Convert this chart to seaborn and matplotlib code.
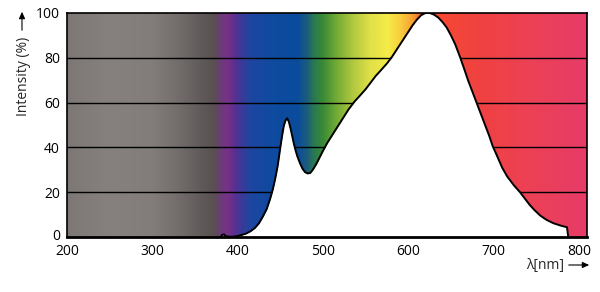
import numpy as np
import pandas as pd
import matplotlib
matplotlib.use("Agg")
import matplotlib.pyplot as plt
import matplotlib.transforms as mtransforms
import seaborn as sns

# --- data ---
wavelength = [380, 382, 384, 386, 390, 395, 400, 405, 410, 415, 420, 425, 430, 434,
              438, 441, 444, 447, 450, 452, 454, 456, 458, 460, 462, 464, 466, 468,
              470, 473, 476, 479, 482, 485, 488, 492, 496, 500, 505, 510, 515, 520,
              525, 530, 537, 543, 550, 556, 562, 568, 575, 581, 587, 593, 599, 605,
              610, 615, 620, 625, 630, 635, 640, 645, 650, 655, 661, 666, 670, 675,
              680, 685, 690, 695, 699, 702, 706, 710, 716, 724, 731, 736, 742, 748,
              755, 762, 770, 778, 786, 787.5]
intensity = [0, 1.0, 1.2, 0.4, 0.2, 0.2, 0.5, 1.0, 1.6, 2.6, 4.0, 6.2, 9.5, 12.5,
             17, 21, 26, 32, 40, 45, 49.5, 52, 53, 51.5, 48.5, 45, 41.5, 38.5,
             36, 33, 30.5, 29, 28.4, 28.6, 30, 32.5, 35.5, 38.5, 42, 45, 48, 51,
             54, 57, 60.5, 63, 66, 69, 72, 74.5, 77.5, 80.5, 84, 87.5, 91, 94.5,
             97, 99, 100, 100, 99.3, 98, 96, 93.5, 90, 86, 80, 74.5, 70, 65,
             60, 55, 50, 45, 40.5, 38, 34.5, 31, 27, 23, 20, 17.5, 14.5, 12,
             9.5, 7.7, 6.2, 5.2, 4.4, 0]
x_ticks = [200, 300, 400, 500, 600, 700, 800]
y_ticks = [0, 20, 40, 60, 80, 100]

# background spectrum colour stops
spec_nm = [200, 250, 300, 330, 360, 372, 380, 388, 396, 405, 415, 440, 470, 480,
           490, 500, 515, 535, 555, 575, 590, 605, 615, 630, 680, 750, 810]
spec_col = ["#7d7875", "#86817e", "#827d7a", "#736e6c", "#5e5958", "#5a5050",
            "#6a3c78", "#7a3088", "#5a3090", "#3a3a98", "#1e46a0", "#0f4aa0",
            "#0a4c9c", "#1a5a80", "#2a7a50", "#3a8a35", "#70aa35", "#b0c840",
            "#e0e048", "#f4ec48", "#f8d040", "#f8a030", "#f86030", "#f84a30",
            "#f04240", "#ec4058", "#e63c68"]

df = pd.DataFrame({"wavelength": wavelength, "intensity": intensity})

sns.set_style("white")
plt.rcParams["font.family"] = ["Open Sans", "DejaVu Sans"]

fig = plt.figure(figsize=(6.0, 2.92), dpi=100)
ax = fig.add_axes([0.1117, 0.188, 0.866, 0.7675])

xmin, xmax = 200, 809
# gradient background
xs = np.linspace(xmin, xmax, 1200)
rgb = np.array([matplotlib.colors.to_rgb(c) for c in spec_col])
grad = np.stack([np.interp(xs, spec_nm, rgb[:, i]) for i in range(3)], axis=-1)
ax.imshow(grad[np.newaxis, :, :], extent=[xmin, xmax, 0, 100], aspect="auto",
          interpolation="bilinear", zorder=0)

for yv in y_ticks[1:-1]:
    ax.axhline(yv, color="black", lw=1.0, zorder=1)

ax.fill_between(df["wavelength"], df["intensity"], 0, color="white", lw=0, zorder=2)
sns.lineplot(data=df, x="wavelength", y="intensity", ax=ax, color="black", lw=1.4,
             zorder=3, sort=False)

ax.set_xlim(xmin, xmax)
ax.set_ylim(0, 100)
ax.set_xticks(x_ticks)
ax.set_yticks(y_ticks)
ax.tick_params(axis="both", length=0, labelsize=10, colors="black")
ax.tick_params(axis="x", pad=5)
ax.tick_params(axis="y", pad=5)
ax.set_xlabel("")
ax.set_ylabel("")
for s in ["left", "top", "right"]:
    ax.spines[s].set_color("black")
    ax.spines[s].set_linewidth(1.2)
ax.spines["bottom"].set_color("black")
ax.spines["bottom"].set_linewidth(2.0)
for s in ax.spines.values():
    s.set_zorder(5)

# lift the "0" label slightly so it sits above the x tick labels
lbl0 = ax.get_yticklabels()[0]
lbl0.set_transform(lbl0.get_transform() +
                   mtransforms.ScaledTranslation(0, 3 / 100, fig.dpi_scale_trans))

# axis labels with arrows
fig.text(24 / 600, 1 - 76 / 292, "Intensity (%)", rotation=90, ha="center",
         va="center", fontsize=10)
fig.add_artist(matplotlib.patches.FancyArrowPatch(
    (22 / 600, 1 - 33 / 292), (22 / 600, 1 - 9 / 292), transform=fig.transFigure,
    arrowstyle="-|>,head_length=4,head_width=1.8", color="black", lw=0.8,
    mutation_scale=1))
fig.text(545 / 600, 1 - 265 / 292, "λ[nm]", ha="center", va="center", fontsize=10)
fig.add_artist(matplotlib.patches.FancyArrowPatch(
    (566 / 600, 1 - 265 / 292), (592 / 600, 1 - 265 / 292), transform=fig.transFigure,
    arrowstyle="-|>,head_length=4,head_width=1.8", color="black", lw=0.8,
    mutation_scale=1))

fig.savefig("out.png", dpi=100)
